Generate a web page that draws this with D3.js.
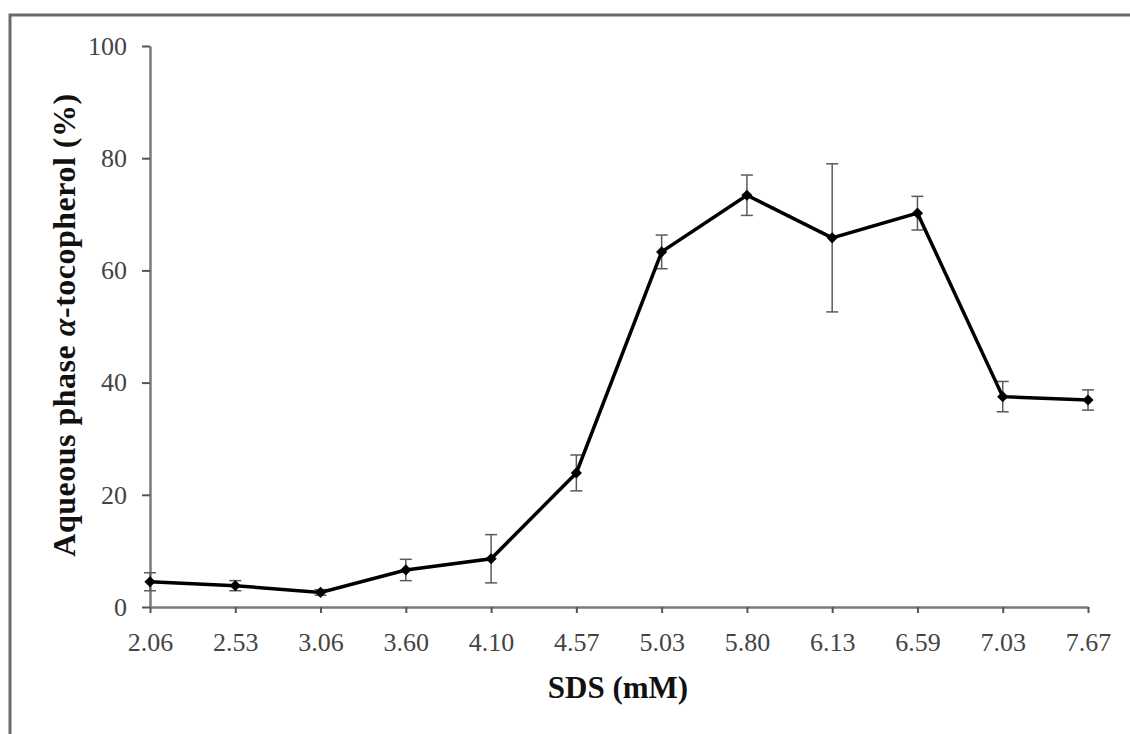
<!DOCTYPE html>
<html>
<head>
<meta charset="utf-8">
<script src="https://cdn.jsdelivr.net/npm/d3@7"></script>
<style>
  body { margin: 0; background: #fff; }
  svg { display: block; }
</style>
</head>
<body>
<script>
//Width and height
var w = 1130;
var h = 734;

//SDS concentrations (category labels on the x axis)
var sdsLabels = ["2.06", "2.53", "3.06", "3.60", "4.10", "4.57", "5.03", "5.80", "6.13", "6.59", "7.03", "7.67"];
//Aqueous phase alpha-tocopherol, mean (%)
var meanValues = [4.5, 3.8, 2.6, 6.6, 8.6, 23.9, 63.3, 73.4, 65.8, 70.2, 37.5, 36.9];
//Error bar half-widths (%)
var errValues = [1.6, 0.9, 0.5, 1.9, 4.3, 3.2, 3.0, 3.6, 13.2, 3.0, 2.7, 1.8];
//Y axis ticks
var yTicks = [0, 20, 40, 60, 80, 100];

var dataset = sdsLabels.map(function(d, i) {
  return { sds: d, mean: meanValues[i], err: errValues[i] };
});

//Create SVG element
var svg = d3.select("body")
  .append("svg")
  .attr("width", w)
  .attr("height", h);

//Outer frame
svg.append("rect")
  .attr("x", 10)
  .attr("y", 15)
  .attr("width", 1200)
  .attr("height", 800)
  .attr("fill", "none")
  .attr("stroke", "#6a6a6a")
  .attr("stroke-width", 3);

//Scales
var xScale = d3.scalePoint()
  .domain(sdsLabels)
  .range([150, 1088]);

var yScale = d3.scaleLinear()
  .domain([0, 100])
  .range([607, 46]);

//Axes
var xAxis = d3.axisBottom(xScale)
  .tickSize(6)
  .tickSizeOuter(0)
  .tickPadding(20);

var yAxis = d3.axisLeft(yScale)
  .tickValues(yTicks)
  .tickSize(8)
  .tickSizeOuter(0)
  .tickPadding(15)
  .tickFormat(d3.format("d"));

var gx = svg.append("g")
  .attr("transform", "translate(0," + yScale(0) + ")")
  .call(xAxis);

var gy = svg.append("g")
  .attr("transform", "translate(" + xScale(sdsLabels[0]) + ",0)")
  .call(yAxis);

[gx, gy].forEach(function(g) {
  g.select(".domain").attr("stroke", "#7a7a7a").attr("stroke-width", 2.5);
  g.selectAll(".tick line").attr("stroke", "#555").attr("stroke-width", 2);
  g.selectAll(".tick text")
    .attr("fill", "#444")
    .style("font-family", "'Liberation Serif', 'Times New Roman', serif")
    .style("font-size", "26px");
});

//Error bars
var capW = 6;
var bars = svg.append("g")
  .selectAll("g")
  .data(dataset)
  .enter()
  .append("g")
  .attr("stroke", "#5a5a5a")
  .attr("stroke-width", 1.5);

bars.append("line")
  .attr("x1", function(d) { return xScale(d.sds); })
  .attr("x2", function(d) { return xScale(d.sds); })
  .attr("y1", function(d) { return yScale(d.mean - d.err); })
  .attr("y2", function(d) { return yScale(d.mean + d.err); });

bars.append("line")
  .attr("x1", function(d) { return xScale(d.sds) - capW; })
  .attr("x2", function(d) { return xScale(d.sds) + capW; })
  .attr("y1", function(d) { return yScale(d.mean + d.err); })
  .attr("y2", function(d) { return yScale(d.mean + d.err); });

bars.append("line")
  .attr("x1", function(d) { return xScale(d.sds) - capW; })
  .attr("x2", function(d) { return xScale(d.sds) + capW; })
  .attr("y1", function(d) { return yScale(d.mean - d.err); })
  .attr("y2", function(d) { return yScale(d.mean - d.err); });

//Define line generator
var line = d3.line()
  .x(function(d) { return xScale(d.sds); })
  .y(function(d) { return yScale(d.mean); });

//Create line
svg.append("path")
  .datum(dataset)
  .attr("d", line)
  .attr("fill", "none")
  .attr("stroke", "#000")
  .attr("stroke-width", 3.5)
  .attr("stroke-linejoin", "miter");

//Diamond markers
svg.append("g")
  .selectAll("path")
  .data(dataset)
  .enter()
  .append("path")
  .attr("d", d3.symbol().type(d3.symbolDiamond2).size(80))
  .attr("transform", function(d) {
    return "translate(" + xScale(d.sds) + "," + yScale(d.mean) + ")";
  })
  .attr("fill", "#000");

//Axis titles
svg.append("text")
  .attr("x", 618)
  .attr("y", 698)
  .attr("text-anchor", "middle")
  .style("font-family", "'Liberation Serif', 'Times New Roman', serif")
  .style("font-size", "31px")
  .style("font-weight", "bold")
  .attr("fill", "#111")
  .text("SDS (mM)");

var yTitle = svg.append("text")
  .attr("transform", "translate(75,325) rotate(-90)")
  .attr("text-anchor", "middle")
  .style("font-family", "'Liberation Serif', 'Times New Roman', serif")
  .style("font-size", "32px")
  .style("font-weight", "bold")
  .style("letter-spacing", "0.5px")
  .attr("fill", "#111");

yTitle.append("tspan").text("Aqueous phase ");
yTitle.append("tspan").style("font-style", "italic").text("α");
yTitle.append("tspan").text("-tocopherol (%)");
</script>
</body>
</html>
